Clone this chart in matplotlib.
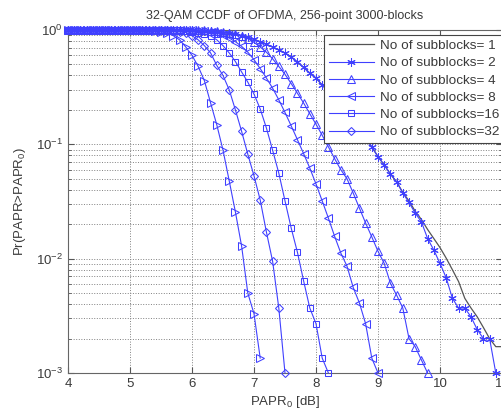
import matplotlib
matplotlib.use("Agg")
import matplotlib.pyplot as plt
import numpy as np

plt.rcParams['font.family'] = ['Liberation Sans', 'DejaVu Sans']
plt.rcParams['mathtext.fontset'] = 'custom'
plt.rcParams['mathtext.rm'] = 'Liberation Sans'
plt.rcParams['mathtext.it'] = 'Liberation Sans'

# PAPR0 grid [dB], 0.1 dB steps starting at 4 dB
papr0 = np.round(np.arange(4.0, 11.05, 0.1), 1)

ccdf_1 = [1.0, 1.0, 1.0, 1.0, 1.0, 1.0, 1.0, 1.0, 1.0, 1.0,
          1.0, 1.0, 1.0, 1.0, 0.9995, 0.999, 0.9985, 0.9975, 0.996, 0.994,
          0.991, 0.987, 0.981, 0.973, 0.963, 0.95, 0.935, 0.915, 0.89, 0.86,
          0.83, 0.79, 0.75, 0.71, 0.67, 0.63, 0.58, 0.525, 0.47, 0.42,
          0.38, 0.33, 0.29, 0.25, 0.215, 0.185, 0.16, 0.135, 0.114, 0.095,
          0.078, 0.066, 0.055, 0.047, 0.038, 0.032, 0.026, 0.022, 0.018, 0.015,
          0.0125, 0.0101, 0.0080, 0.0063, 0.0045, 0.0037, 0.0031, 0.0025, 0.0020, 0.0017,
          0.0017]
ccdf_2 = [1.0, 1.0, 1.0, 1.0, 1.0, 1.0, 1.0, 1.0, 1.0, 1.0,
          1.0, 1.0, 1.0, 1.0, 0.9995, 0.999, 0.9985, 0.9975, 0.996, 0.994,
          0.991, 0.987, 0.981, 0.973, 0.963, 0.95, 0.935, 0.915, 0.89, 0.86,
          0.83, 0.79, 0.75, 0.71, 0.67, 0.63, 0.58, 0.525, 0.47, 0.42,
          0.38, 0.33, 0.29, 0.25, 0.215, 0.185, 0.16, 0.135, 0.114, 0.095,
          0.078, 0.066, 0.055, 0.047, 0.0375, 0.031, 0.025, 0.021, 0.015, 0.0119,
          0.0091, 0.0068, 0.0045, 0.0037, 0.0037, 0.0031, 0.0024, 0.0020, 0.0020, 0.001]
ccdf_4 = [1.0, 1.0, 1.0, 1.0, 1.0, 1.0, 1.0, 1.0, 1.0, 1.0,
          1.0, 1.0, 1.0, 1.0, 1.0, 1.0, 1.0, 1.0, 1.0, 0.999,
          0.998, 0.996, 0.993, 0.987, 0.978, 0.965, 0.945, 0.92, 0.885, 0.84,
          0.78, 0.71, 0.64, 0.56, 0.48, 0.41, 0.34, 0.28, 0.23, 0.185,
          0.15, 0.12, 0.095, 0.075, 0.060, 0.050, 0.0375, 0.0277, 0.0205, 0.0155,
          0.0116, 0.0091, 0.0061, 0.0048, 0.0037, 0.0020, 0.0017, 0.0013, 0.001]
ccdf_8 = [1.0, 1.0, 1.0, 1.0, 1.0, 1.0, 1.0, 1.0, 1.0, 1.0,
          1.0, 1.0, 1.0, 1.0, 1.0, 1.0, 1.0, 0.999, 0.998, 0.996,
          0.992, 0.985, 0.975, 0.96, 0.935, 0.90, 0.85, 0.79, 0.72, 0.64,
          0.55, 0.46, 0.38, 0.31, 0.245, 0.19, 0.145, 0.11, 0.083, 0.062,
          0.045, 0.032, 0.0226, 0.0157, 0.0112, 0.0086, 0.0056, 0.0041, 0.0027, 0.00135,
          0.001]
ccdf_16 = [1.0, 1.0, 1.0, 1.0, 1.0, 1.0, 1.0, 1.0, 1.0, 1.0,
           1.0, 1.0, 1.0, 1.0, 1.0, 0.999, 0.998, 0.995, 0.99, 0.983,
           0.97, 0.95, 0.92, 0.89, 0.82, 0.73, 0.63, 0.53, 0.43, 0.35,
           0.275, 0.204, 0.139, 0.089, 0.056, 0.032, 0.0185, 0.0114, 0.0064, 0.0037,
           0.0027, 0.00135, 0.001]
ccdf_32 = [1.0, 1.0, 1.0, 1.0, 1.0, 1.0, 1.0, 1.0, 1.0, 1.0,
           1.0, 1.0, 1.0, 1.0, 0.999, 0.997, 0.993, 0.985, 0.97, 0.95,
           0.89, 0.82, 0.73, 0.63, 0.49, 0.40, 0.30, 0.20, 0.13, 0.082,
           0.053, 0.0326, 0.0171, 0.0095, 0.0037, 0.001]
ccdf_64 = [1.0, 1.0, 1.0, 1.0, 1.0, 1.0, 1.0, 1.0, 1.0, 1.0,
           1.0, 0.999, 0.997, 0.993, 0.985, 0.97, 0.94, 0.89, 0.82, 0.71,
           0.60, 0.48, 0.36, 0.23, 0.148, 0.089, 0.048, 0.0256, 0.0129, 0.005,
           0.0033, 0.00135]

labels = ['No of subblocks= 1', 'No of subblocks= 2', 'No of subblocks= 4',
          'No of subblocks= 8', 'No of subblocks=16', 'No of subblocks=32', None]
series = [ccdf_1, ccdf_2, ccdf_4, ccdf_8, ccdf_16, ccdf_32, ccdf_64]
markers = [None, (6, 2, 0), '^', '<', 's', 'D', '>']
sizes = [0, 6, 5.5, 5.5, 5, 4.2, 5.5]

blue = (0.25, 0.25, 1.0)
text_c = '#3a3a3a'

fig = plt.figure(figsize=(5.02, 4.13), dpi=100)
ax = fig.add_axes([68 / 502, 40 / 413, 434 / 502, 343 / 413])

for y, m, ms, lab in zip(series, markers, sizes, labels):
    x = papr0[:len(y)]
    if m is None:
        ax.semilogy(x, y, color='#555555', lw=0.9, label=lab, clip_on=False, zorder=2)
    else:
        ax.semilogy(x, y, color=blue, lw=0.8, marker=m, ms=ms,
                    mfc='none', mec=blue, mew=0.75, label=lab, clip_on=False, zorder=3)

ax.set_xlim(4, 11)
ax.set_ylim(1e-3, 1)
ax.set_xticks(range(4, 12))
ax.grid(True, which='major', axis='x', ls=':', color='#808080', lw=0.7)
ax.grid(True, which='both', axis='y', ls=':', color='#808080', lw=0.7)
ax.tick_params(which='both', direction='in', top=True, right=True,
               labelsize=9.5, colors='#555555', labelcolor=text_c)
ax.tick_params(which='major', length=4)
ax.tick_params(which='minor', length=2)
for s in ax.spines.values():
    s.set_color('#666666')
    s.set_linewidth(0.8)

ax.set_title('32-QAM CCDF of OFDMA, 256-point 3000-blocks', fontsize=9, color=text_c, pad=8)
ax.set_xlabel('PAPR$_0$ [dB]', fontsize=9.5, color=text_c, labelpad=3)
ax.set_ylabel('Pr(PAPR>PAPR$_0$)', fontsize=9.5, color=text_c, labelpad=6)

handles, labs = ax.get_legend_handles_labels()
leg = ax.legend(handles[:6], labs[:6], loc='upper right', bbox_to_anchor=(1.006, 0.986),
                fontsize=9.7, frameon=True, fancybox=False, framealpha=1,
                edgecolor='#444444', handlelength=3.4, labelspacing=0.36,
                borderpad=0.35, handletextpad=0.45, borderaxespad=0)
leg.get_frame().set_linewidth(0.8)
leg.set_zorder(5)
for t in leg.get_texts():
    t.set_color(text_c)

fig.savefig('out.png', dpi=100)
